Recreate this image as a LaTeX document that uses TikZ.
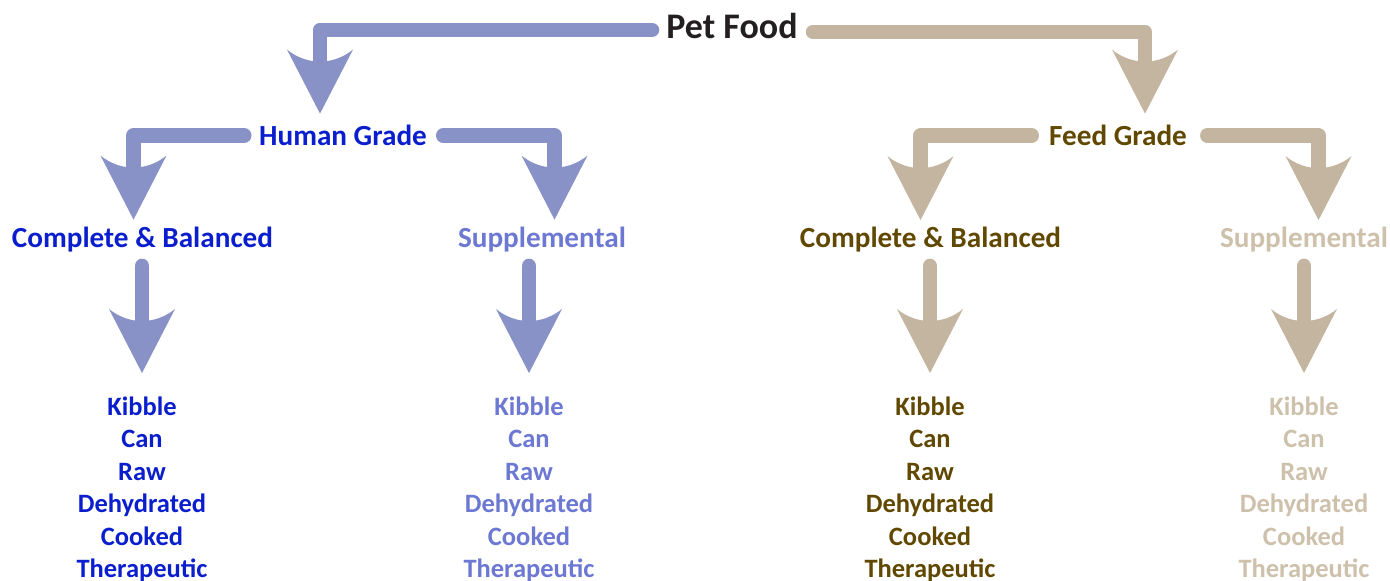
\documentclass[tikz,border=0pt]{standalone}
\usepackage{fontspec}
\setmainfont{Carlito}
\usetikzlibrary{arrows.meta,calc}

\definecolor{bluebar}{RGB}{136,146,199}
\definecolor{tanbar}{RGB}{196,181,160}
\definecolor{hdark}{RGB}{10,30,205}
\definecolor{hlight}{RGB}{108,120,210}
\definecolor{fdark}{RGB}{96,72,0}
\definecolor{flight}{RGB}{206,193,172}
\definecolor{ink}{RGB}{35,31,32}

% arrow head with a hollow back
\pgfdeclarearrow{
  name = Plume,
  parameters = {\the\pgfarrowlength,\the\pgfarrowwidth,\the\pgfarrowinset},
  setup code = {
    \pgfarrowssettipend{0pt}
    \pgfarrowssetbackend{-\pgfarrowlength}
    \pgfarrowssetlineend{-.5\pgfarrowlength}
    \pgfarrowssavethe\pgfarrowlength
    \pgfarrowssavethe\pgfarrowwidth
    \pgfarrowssavethe\pgfarrowinset
  },
  drawing code = {
    \pgfpathmoveto{\pgfqpoint{0pt}{0pt}}
    \pgfpathlineto{\pgfqpoint{-\pgfarrowlength}{.5\pgfarrowwidth}}
    \pgfpathcurveto{\pgfpoint{-\pgfarrowlength+\pgfarrowinset}{.2\pgfarrowwidth}}
      {\pgfpoint{-\pgfarrowlength+\pgfarrowinset}{-.2\pgfarrowwidth}}
      {\pgfqpoint{-\pgfarrowlength}{-.5\pgfarrowwidth}}
    \pgfpathclose
    \pgfusepathqfill
  },
  defaults = {length=32pt, width=33pt, inset=8pt}
}

\tikzset{
  head/.style={font=\bfseries\fontsize{14.6}{17.5}\selectfont,inner sep=0pt,text height=9.5pt,text depth=0pt,anchor=base},
  list/.style={font=\bfseries\fontsize{13.25}{16.25}\selectfont,inner sep=0pt,align=center,anchor=north},
  barb/.style={line width=7.25pt,line cap=round,line join=round,-{Plume[length=32pt,width=33pt,inset=8pt]}}
}

\begin{document}
\begin{tikzpicture}[x=0.5pt,y=-0.5pt]
\useasboundingbox (0,0) rectangle (1390,580);

\node[head,font=\bfseries\fontsize{18}{21.5}\selectfont,text height=11.7pt,text=ink] (food) at (732,38) {Pet Food};
\node[head,text=hdark] (hg) at (343,145) {Human Grade};
\node[head,text=fdark] (fg) at (1118,145) {Feed Grade};

\node[head,text=hdark] (hcb) at (142.5,247) {Complete \& Balanced};
\node[head,text=hlight] (hsu) at (542,247) {Supplemental};
\node[head,text=fdark] (fcb) at (930.5,247) {Complete \& Balanced};
\node[head,text=flight] (fsu) at (1304,247) {Supplemental};

\node[list,text=hdark] (hcbl) at (142,396) {Kibble\\Can\\Raw\\Dehydrated\\Cooked\\Therapeutic};
\node[list,text=hlight] (hsul) at (529,396) {Kibble\\Can\\Raw\\Dehydrated\\Cooked\\Therapeutic};
\node[list,text=fdark] (fcbl) at (930,396) {Kibble\\Can\\Raw\\Dehydrated\\Cooked\\Therapeutic};
\node[list,text=flight] (fsul) at (1304,396) {Kibble\\Can\\Raw\\Dehydrated\\Cooked\\Therapeutic};

\draw[barb,bluebar] ($(food.west)+(-14,3.5)$) -| ($(hg.north)+(-23,-12)$);
\draw[barb,tanbar] ($(food.east)+(15,5.5)$) -| ($(fg.north)+(27,-12)$);

\draw[barb,bluebar] ($(hg.west)+(-14.5,0)$) -| ($(hcb.north)+(-9,-8)$);
\draw[barb,bluebar] ($(hg.east)+(16,0)$) -| ($(hsu.north)+(12.5,-8)$);
\draw[barb,tanbar] ($(fg.west)+(-17,0)$) -| ($(fcb.north)+(-10,-7.5)$);
\draw[barb,tanbar] ($(fg.east)+(20,0)$) -| ($(fsu.north)+(14.5,-7.5)$);

\draw[barb,bluebar] ([yshift=-9.25pt]hcbl.north |- hcb.south) -- ([yshift=11.5pt]hcbl.north);
\draw[barb,bluebar] ([yshift=-9.25pt]hsul.north |- hsu.south) -- ([yshift=11.5pt]hsul.north);
\draw[barb,tanbar] ([yshift=-9.25pt]fcbl.north |- fcb.south) -- ([yshift=11.5pt]fcbl.north);
\draw[barb,tanbar] ([yshift=-9.25pt]fsul.north |- fsu.south) -- ([yshift=11.5pt]fsul.north);
\end{tikzpicture}
\end{document}
